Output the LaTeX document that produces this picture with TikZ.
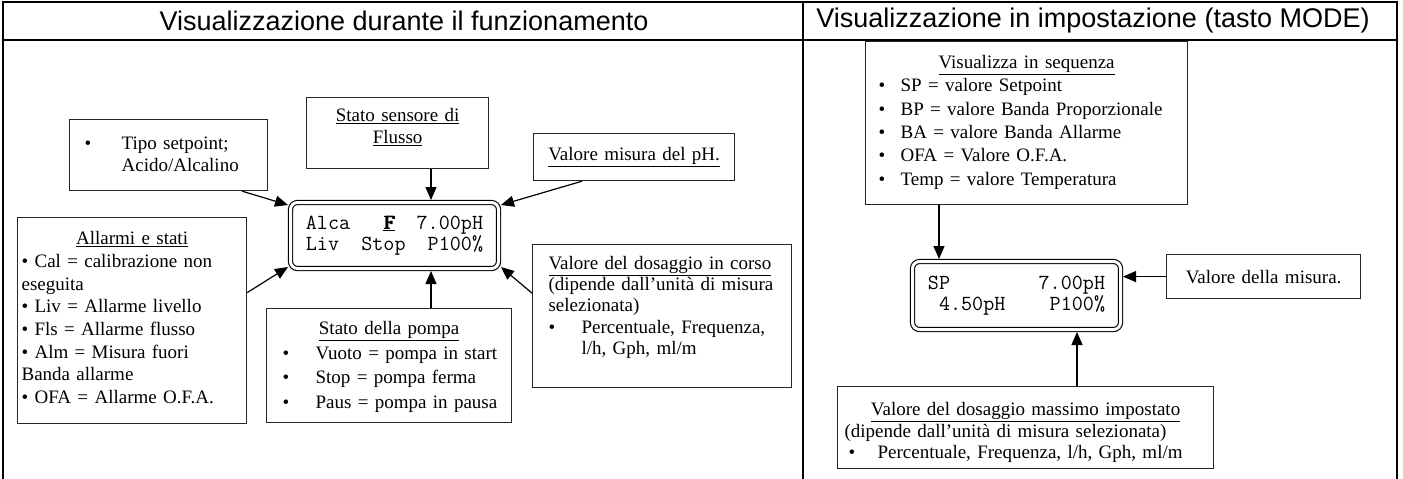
\documentclass[tikz,border=0pt]{standalone}
\usepackage{fontspec}
\setmainfont{Liberation Serif}
\setsansfont{Liberation Sans}
\usepackage{tikz}
\usetikzlibrary{arrows.meta, positioning}
\newcommand{\corpo}[1][22]{\fontsize{19}{#1}\selectfont}
\newcommand{\titolo}{\sffamily\fontsize{27}{30}\selectfont}
\newcommand{\lcdfont}{\ttfamily\fontsize{21.5}{21.5}\selectfont}
% voce di elenco: rientro del pallino, rientro del testo, testo
\newcommand{\pallino}[3]{\hspace*{#1}%
  \makebox[\dimexpr#2-#1\relax][l]{\textbullet}%
  \parbox[t]{\dimexpr\linewidth-#2\relax}{#3}}
\newcommand{\voce}[3]{\par\noindent\pallino{#1}{#2}{#3}}
\newcommand{\testa}[1]{\makebox[\linewidth]{\underline{#1}}}
% carattere ripassato (grassetto del display)
\newcommand{\ripassa}[1]{\makebox[0pt][l]{#1}\makebox[0pt][l]{\hspace{0.7pt}#1}%
  \makebox[0pt][l]{\hspace{1.4pt}#1}\phantom{#1}}

\begin{document}
\begin{tikzpicture}[x=1pt, y=-1pt,
    riquadro/.style={draw=black!85, line width=1.2pt, anchor=north west,
      inner xsep=0pt, inner ysep=0pt, align=left, font=\corpo},
    display/.style={draw, double, double distance=3pt, line width=1.1pt,
      rounded corners=7pt, inner sep=0pt, outer sep=2.5pt,
      align=left, font=\lcdfont},
    freccia/.style={line width=1.2pt, -{Triangle[length=13pt, width=11pt]}},
    cornice/.style={line width=2pt}]
  \useasboundingbox (0,0) rectangle (1403,479);

  % tabella esterna
  \draw[cornice] (2,2) -- (1398,2);
  \draw[cornice] (2,40) -- (1398,40);
  \draw[cornice] (3,2) -- (3,479);
  \draw[cornice] (803,2) -- (803,479);
  \draw[cornice] (1397,2) -- (1397,479);

  \node[font=\titolo] (tit1) at (404,21) {Visualizzazione durante il funzionamento};
  \node[font=\titolo] (tit2) at (1093,21) {Visualizzazione in impostazione (tasto MODE)};

  % funzionamento
  \node[display, minimum width=208, minimum height=66] (disp) at (394.5,235.5)
    {Alca\ \ \ \underline{\ripassa{F}}\ \ 7.00pH\\Liv\ \ Stop\ \ P100\%};

  \node[riquadro, text width=198, text height=30, text depth=41] (tipo) at (69,119)
    {\pallino{15pt}{52pt}{Tipo setpoint;\\Acido/Alcalino}};

  \node[riquadro, inner xsep=4pt, text width=221, text height=27, text depth=179,
        font={\corpo[22.7]}] (allarmi) at (17,217)
    {\testa{Allarmi e stati}\\
     \textbullet{} Cal = calibrazione non\\
     eseguita\\
     \textbullet{} Liv = Allarme livello\\
     \textbullet{} Fls = Allarme flusso\\
     \textbullet{} Alm = Misura fuori\\
     Banda allarme\\
     \textbullet{} OFA = Allarme O.F.A.};

  \node[riquadro, text width=182, text height=24, text depth=47, align=center] (sensore) at (306,97)
    {\underline{Stato sensore di}\\\underline{Flusso}};

  \node[riquadro, text width=201, minimum height=47, align=center] (misura) at (533,133)
    {\underline{Valore misura del pH.}};

  \node[riquadro, text width=245, text height=26, text depth=88, font={\corpo[24.5]}] (pompa) at (266,308)
    {\testa{Stato della pompa}
     \voce{16pt}{49pt}{Vuoto = pompa in start}
     \voce{16pt}{49pt}{Stop = pompa ferma}
     \voce{16pt}{49pt}{Paus = pompa in pausa}};

  \node[riquadro, inner xsep=16pt, text width=227, text height=25, text depth=118,
        font={\corpo[21]}] (dosaggio) at (532,244)
    {\underline{Valore del dosaggio in corso}\\
     (dipende dall’unità di misura\\
     selezionata)\\[1pt]
     \voce{0pt}{33pt}{Percentuale, Frequenza,\\l/h, Gph, ml/m}};

  \coordinate (fx) at (431,0);
  \draw[freccia] (sensore.south -| fx) -- (disp.north -| fx);
  \draw[freccia] (pompa.north -| fx) -- (disp.south -| fx);
  \draw[freccia] ([xshift=-26pt]tipo.south east) -- ([yshift=-5pt]disp.north west);
  \draw[freccia] ([yshift=28pt]allarmi.east) -- ([yshift=4pt]disp.south west);
  \draw[freccia] ([xshift=49pt]misura.south west) -- ([yshift=-5pt]disp.north east);
  \draw[freccia] ([yshift=23pt]dosaggio.west) -- ([yshift=4pt]disp.south east);

  % impostazione
  \node[display, minimum width=208, minimum height=68] (disp2) at (1016.5,295.5)
    {SP\ \ \ \ \ \ \ \ 7.00pH\\\ 4.50pH\ \ \ \ P100\%};

  \node[riquadro, text width=322, text height=27, text depth=136, font={\corpo[23.3]}] (vis) at (865,41)
    {\testa{Visualizza in sequenza}
     \voce{13pt}{35pt}{SP = valore Setpoint}
     \voce{13pt}{35pt}{BP = valore Banda Proporzionale}
     \voce{13pt}{35pt}{BA = valore Banda Allarme}
     \voce{13pt}{35pt}{OFA = Valore O.F.A.}
     \voce{13pt}{35pt}{Temp = valore Temperatura}};

  \node[riquadro, text width=194, minimum height=44, align=center] (misura2) at (1166,254)
    {Valore della misura.};

  \node[riquadro, inner xsep=7pt, text width=362, text height=29, text depth=53,
        font={\corpo[21.5]}] (dosmax) at (837,386)
    {\testa{Valore del dosaggio massimo impostato}\\
     (dipende dall’unità di misura selezionata)
     \voce{4pt}{33pt}{Percentuale, Frequenza, l/h, Gph, ml/m}};

  \coordinate (vx) at (939,0);
  \coordinate (mx) at (1077,0);
  \draw[freccia] (vis.south -| vx) -- (disp2.north -| vx);
  \draw[freccia] (dosmax.north -| mx) -- (disp2.south -| mx);
  \draw[freccia] (misura2.west) -- (misura2.west -| disp2.east);
\end{tikzpicture}
\end{document}
